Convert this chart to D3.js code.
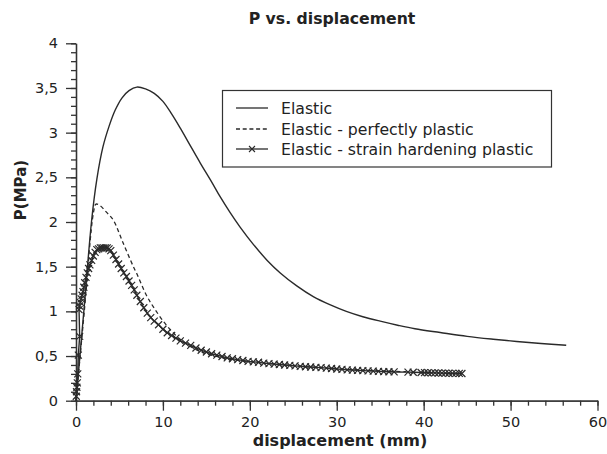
<!DOCTYPE html>
<html>
<head>
<meta charset="utf-8">
<script src="https://cdn.jsdelivr.net/npm/d3@7"></script>
<style>
  body { margin: 0; background: #fff; }
  text { font-family: "DejaVu Sans", sans-serif; fill: #222; }
</style>
</head>
<body>
<div id="chart"></div>
<script>
// Data (displacement in mm, P in MPa)
var elastic = [
  [0, 0], [0.9, 1.0], [1.8, 2.02], [2.4, 2.48], [3.1, 2.84], [3.8, 3.07], [4.5, 3.25],
  [5.3, 3.39], [6.1, 3.47], [7.0, 3.51], [8.0, 3.49], [9.0, 3.44], [10.0, 3.35],
  [11.0, 3.21], [12.0, 3.05], [13.0, 2.88], [14.3, 2.66], [15.6, 2.45], [16.6, 2.28],
  [17.7, 2.11], [18.9, 1.94], [20.4, 1.75], [22.0, 1.57], [23.5, 1.43], [25.4, 1.285],
  [27.3, 1.165], [29.2, 1.075], [31.1, 1.0], [33.0, 0.94], [35.0, 0.89], [37.0, 0.845],
  [39.0, 0.805], [41.9, 0.763], [45.0, 0.72], [48.0, 0.688], [50.7, 0.663], [53.5, 0.64],
  [56.4, 0.62]
];
var perfectlyPlastic = [
  [0, 0], [1.0, 1.05], [2.0, 2.1], [2.3, 2.2], [2.8, 2.18], [3.5, 2.11], [4.3, 2.02],
  [5.4, 1.77], [6.6, 1.50], [7.0, 1.42], [8.1, 1.18], [8.9, 1.05], [10.2, 0.87],
  [11.6, 0.72], [13.1, 0.61], [14.7, 0.535], [16.4, 0.49], [18.1, 0.458], [21.2, 0.425],
  [24.0, 0.40], [27.0, 0.378], [30.0, 0.358], [33.0, 0.342], [36.0, 0.33], [38.0, 0.325]
];
var strainHardening = [
  [0, 0], [0.03, 0.05], [0.06, 0.1], [0.1, 0.15], [0.15, 0.2], [0.2, 0.3], [0.27, 0.51],
  [0.42, 0.72], [0.35, 1.02], [0.4, 1.06], [0.5, 1.1], [0.6, 1.14], [0.7, 1.18],
  [0.8, 1.22], [0.9, 1.27], [1.0, 1.32], [1.15, 1.38], [1.3, 1.43], [1.45, 1.48],
  [1.6, 1.52], [1.8, 1.57], [2.0, 1.62], [2.2, 1.66], [2.4, 1.69], [2.6, 1.70],
  [2.8, 1.71], [3.0, 1.71], [3.2, 1.71], [3.4, 1.71], [3.6, 1.71], [3.8, 1.70],
  [4.0, 1.68], [4.3, 1.63], [4.6, 1.58], [4.9, 1.53], [5.2, 1.48], [5.5, 1.43],
  [5.8, 1.39], [6.1, 1.34], [6.4, 1.29], [6.7, 1.24], [7.0, 1.18], [7.4, 1.11],
  [7.8, 1.04], [8.2, 0.98], [8.6, 0.93], [9.0, 0.89], [9.5, 0.85], [10.0, 0.80],
  [10.5, 0.76], [11.0, 0.73], [11.5, 0.70], [12.0, 0.67], [12.6, 0.645], [13.2, 0.62],
  [13.8, 0.59], [14.4, 0.565], [15.0, 0.545], [15.6, 0.525], [16.2, 0.51], [16.8, 0.495],
  [17.4, 0.48], [18.0, 0.47], [18.6, 0.46], [19.2, 0.45], [19.8, 0.44], [20.4, 0.435],
  [21.0, 0.43], [21.6, 0.42], [22.2, 0.415], [22.8, 0.41], [23.4, 0.405], [24.0, 0.40],
  [24.6, 0.395], [25.2, 0.39], [25.8, 0.385], [26.4, 0.38], [27.0, 0.377], [27.6, 0.373],
  [28.2, 0.37], [28.8, 0.365], [29.4, 0.36], [30.0, 0.355], [30.6, 0.35], [31.2, 0.345],
  [31.8, 0.342], [32.4, 0.34], [33.0, 0.337], [33.6, 0.334], [34.2, 0.331], [34.8, 0.328],
  [35.4, 0.326], [36.0, 0.324], [36.6, 0.322], [38.2, 0.32], [38.8, 0.318], [39.7, 0.316],
  [40.1, 0.314], [40.5, 0.313], [40.9, 0.312], [41.3, 0.311], [41.7, 0.31], [42.1, 0.309],
  [42.5, 0.308], [42.9, 0.307], [43.3, 0.306], [43.7, 0.305], [44.1, 0.305], [44.4, 0.304]
];
var xTicks = [0, 10, 20, 30, 40, 50, 60];
var yTicks = [0, 0.5, 1, 1.5, 2, 2.5, 3, 3.5, 4];
var legendLabels = ['Elastic', 'Elastic - perfectly plastic', 'Elastic - strain hardening plastic'];

// Chart Setup
var width = 607, height = 454;
var plotLeft = 76, plotRight = 597.5, plotTop = 43.3, plotBottom = 400.7;
var ink = '#2a2a2a';

var svg = d3.select('#chart')
  .append('svg')
  .attr('width', width)
  .attr('height', height);

var xScale = d3.scaleLinear().domain([0, 60]).range([plotLeft, plotRight]);
var yScale = d3.scaleLinear().domain([0, 4]).range([plotBottom, plotTop]);

// Axes (major + minor ticks, outward)
function styleAxis(g) {
  g.selectAll('path, line').attr('stroke', '#333').attr('stroke-width', 1.3);
  g.selectAll('text').attr('font-size', '14.5px').attr('fill', '#222')
    .attr('font-family', '"DejaVu Sans", sans-serif');
}
svg.append('g')
  .attr('transform', 'translate(0,' + plotBottom + ')')
  .call(d3.axisBottom(xScale).tickValues(d3.range(0, 60.1, 2)).tickSize(5).tickSizeOuter(0).tickFormat(''))
  .call(styleAxis);
svg.append('g')
  .attr('transform', 'translate(0,' + plotBottom + ')')
  .call(d3.axisBottom(xScale).tickValues(xTicks).tickSize(10).tickSizeOuter(0).tickPadding(6))
  .call(styleAxis);
svg.append('g')
  .attr('transform', 'translate(' + plotLeft + ',0)')
  .call(d3.axisLeft(yScale).tickValues(d3.range(0, 4.01, 0.1)).tickSize(5).tickSizeOuter(0).tickFormat(''))
  .call(styleAxis);
svg.append('g')
  .attr('transform', 'translate(' + plotLeft + ',0)')
  .call(d3.axisLeft(yScale).tickValues(yTicks).tickSize(10).tickSizeOuter(0).tickPadding(8)
    .tickFormat(function (d) { return String(d).replace('.', ','); }))
  .call(styleAxis);

// Lines
var smooth = d3.line()
  .x(function (d) { return xScale(d[0]); })
  .y(function (d) { return yScale(d[1]); })
  .curve(d3.curveCatmullRom.alpha(0.5));
var straight = d3.line()
  .x(function (d) { return xScale(d[0]); })
  .y(function (d) { return yScale(d[1]); });

svg.append('path').datum(elastic)
  .attr('d', smooth).attr('fill', 'none').attr('stroke', ink).attr('stroke-width', 1.4);
svg.append('path').datum(perfectlyPlastic)
  .attr('d', smooth).attr('fill', 'none').attr('stroke', ink).attr('stroke-width', 1.3)
  .attr('stroke-dasharray', '4,3');
svg.append('path').datum(strainHardening)
  .attr('d', straight).attr('fill', 'none').attr('stroke', ink).attr('stroke-width', 1.4);

var cross = 'M-3.5,-3.5L3.5,3.5M-3.5,3.5L3.5,-3.5';
svg.append('g').selectAll('path')
  .data(strainHardening.slice(1))
  .enter()
  .append('path')
  .attr('transform', function (d) { return 'translate(' + xScale(d[0]) + ',' + yScale(d[1]) + ')'; })
  .attr('d', cross)
  .attr('stroke', ink)
  .attr('stroke-width', 1.2)
  .attr('fill', 'none');

// Legend
var legend = svg.append('g');
legend.append('rect')
  .attr('x', 222.5).attr('y', 90.5).attr('width', 329).attr('height', 76.5)
  .attr('fill', '#fff').attr('stroke', '#333').attr('stroke-width', 1.2);
var rowY = [108, 129, 149];
legendLabels.forEach(function (label, i) {
  var l = legend.append('line')
    .attr('x1', 236).attr('x2', 268).attr('y1', rowY[i]).attr('y2', rowY[i])
    .attr('stroke', ink).attr('stroke-width', 1.3);
  if (i === 1) l.attr('stroke-dasharray', '4,2.7');
  if (i === 2) {
    legend.append('path')
      .attr('transform', 'translate(252,' + rowY[i] + ')')
      .attr('d', 'M-3,-3L3,3M-3,3L3,-3').attr('stroke', ink).attr('stroke-width', 1.1);
  }
  legend.append('text')
    .attr('x', 281).attr('y', rowY[i] + 5.5)
    .attr('font-size', '15.7px')
    .text(label);
});

// Titles
svg.append('text')
  .attr('x', 332).attr('y', 24)
  .attr('text-anchor', 'middle')
  .attr('font-size', '15.7px').attr('font-weight', 'bold')
  .text('P vs. displacement');
svg.append('text')
  .attr('x', 340).attr('y', 446)
  .attr('text-anchor', 'middle')
  .attr('font-size', '16px').attr('font-weight', 'bold')
  .text('displacement (mm)');
svg.append('text')
  .attr('transform', 'translate(26,190)rotate(-90)')
  .attr('text-anchor', 'middle')
  .attr('font-size', '15px').attr('font-weight', 'bold')
  .text('P(MPa)');
</script>
</body>
</html>
